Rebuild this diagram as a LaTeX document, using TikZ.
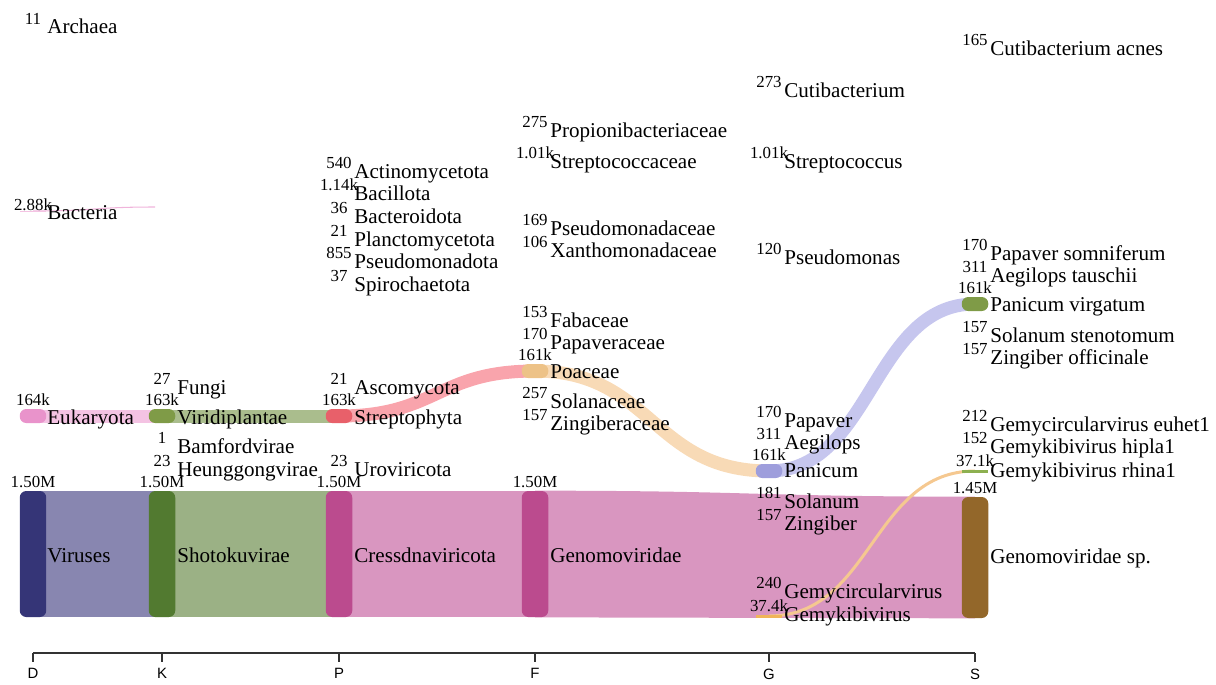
\documentclass[tikz,border=0pt]{standalone}
\usepackage{fontspec}
\setmainfont{Liberation Serif}
\setsansfont{Liberation Sans}
\usetikzlibrary{backgrounds}

\definecolor{virbar}{HTML}{353577}
\definecolor{virband}{HTML}{8886B0}
\definecolor{shobar}{HTML}{527A30}
\definecolor{shoband}{HTML}{9BB185}
\definecolor{crebar}{HTML}{BB4B8E}
\definecolor{creband}{HTML}{D996C0}
\definecolor{gspbar}{HTML}{93672A}
\definecolor{eukbar}{HTML}{E993CB}
\definecolor{eukband}{HTML}{F4C3E3}
\definecolor{vribar}{HTML}{7F9B47}
\definecolor{vriband}{HTML}{AABD8D}
\definecolor{strbar}{HTML}{E8606A}
\definecolor{strband}{HTML}{F9A4AC}
\definecolor{poabar}{HTML}{EDC287}
\definecolor{poaband}{HTML}{F8DAB6}
\definecolor{panbar}{HTML}{9E9EDC}
\definecolor{panband}{HTML}{C6C6EE}
\definecolor{gkbbar}{HTML}{F0B55A}
\definecolor{gkbband}{HTML}{F5C890}
\definecolor{rhibar}{HTML}{8DB050}

\tikzset{
  bar/.style={rounded corners=0.13cm, minimum width=0.53cm, inner sep=0pt},
  thinbar/.style={minimum width=0.53cm, inner sep=0pt},
  taxon/.style={font=\fontsize{12}{14}\selectfont, inner sep=0pt, anchor=base west},
  count/.style={font=\fontsize{9.6}{11}\selectfont, inner sep=0pt, anchor=base},
  flow/.style={line width=0.26cm},
  axis/.style={draw=black!80, line width=0.7pt},
  rank/.style={font=\sffamily\fontsize{8.5}{10}\selectfont, inner sep=0pt, anchor=north}
}

\begin{document}
\begin{tikzpicture}[x=0.02cm, y=-0.02cm, label distance=0.06cm]
  \useasboundingbox (0,0) rectangle (1216,684);

  % Viruses lineage
  \node[bar, fill=virbar, minimum height=2.52cm, label={[count]above:1.50M}] (vir) at (33,554) {};
  \node[bar, fill=shobar, minimum height=2.52cm, label={[count]above:1.50M}] (sho) at (162,554) {};
  \node[bar, fill=crebar, minimum height=2.52cm, label={[count]above:1.50M}] (cre) at (339,554) {};
  \node[bar, fill=crebar, minimum height=2.52cm, label={[count]above:1.50M}] (gen) at (535,554) {};
  \node[bar, fill=gspbar, minimum height=2.42cm, label={[count]above:1.45M}] (gsp) at (975,557.5) {};
  \node[thinbar, fill=gkbbar, minimum height=0.06cm, label={[count]above:37.4k}] (gkb) at (769,616) {};
  \node[thinbar, fill=rhibar, minimum height=0.06cm, label={[count]above:37.1k}] (rhi) at (975,471) {};

  % Eukaryota lineage
  \node[bar, fill=eukbar, minimum height=0.28cm, label={[count]above:164k}] (euk) at (33,416) {};
  \node[bar, fill=vribar, minimum height=0.28cm, label={[count]above:163k}] (vri) at (162,416) {};
  \node[bar, fill=strbar, minimum height=0.28cm, label={[count]above:163k}] (str) at (339,416) {};
  \node[bar, fill=poabar, minimum height=0.28cm, label={[count]above:161k}] (poa) at (535,371) {};
  \node[bar, fill=panbar, minimum height=0.28cm, label={[count]above:161k}] (pan) at (769,471) {};
  \node[bar, fill=vribar, minimum height=0.28cm, label={[count]above:161k}] (pvi) at (975,304) {};

  % Bacteria
  \node[thinbar, minimum height=0.02cm, fill=eukband] (bac) at (33,211) {};
  \coordinate (bacend) at (155,207);

  % Bands
  \begin{scope}[on background layer]
    \fill[virband] (vir.north) rectangle (sho.south);
    \fill[shoband] (sho.north) rectangle (cre.south);
    \fill[creband] (cre.north) rectangle (gen.south);
    \fill[creband] (gen.north) .. controls +(220,0) and +(-220,0) .. (gsp.north)
      -- (gsp.south) .. controls +(-220,0) and +(220,0) .. (gen.south) -- cycle;
    \draw[flow, eukband] (euk.center) -- (vri.center);
    \draw[flow, vriband] (vri.center) -- (str.center);
    \draw[flow, strband] (str.center) .. controls +(98,0) and +(-98,0) .. (poa.center);
    \draw[flow, poaband] (poa.center) .. controls +(117,0) and +(-117,0) .. (pan.center);
    \draw[flow, panband] (pan.center) .. controls +(103,0) and +(-103,0) .. (pvi.center);
    \draw[line width=0.06cm, gkbband] (gkb.center) .. controls +(103,0) and +(-103,0) .. (rhi.center);
    \draw[line width=0.6pt, eukbar!70] (bac.center) .. controls +(61,0) and +(-61,0) .. (bacend);
  \end{scope}

  % Names of the bars
  \node[taxon] (vir-t) at (47,562) {Viruses};
  \node[taxon] (sho-t) at (177,562) {Shotokuvirae};
  \node[taxon] (cre-t) at (354,562) {Cressdnaviricota};
  \node[taxon] (gen-t) at (550,562) {Genomoviridae};
  \node[taxon] (gsp-t) at (990,563) {Genomoviridae sp.};
  \node[taxon] (gkb-t) at (784,621) {Gemykibivirus};
  \node[taxon] (rhi-t) at (990,477) {Gemykibivirus rhina1};
  \node[taxon] (euk-t) at (47,424) {Eukaryota};
  \node[taxon] (vri-t) at (177,424) {Viridiplantae};
  \node[taxon] (str-t) at (354,424) {Streptophyta};
  \node[taxon] (poa-t) at (550,378) {Poaceae};
  \node[taxon] (pan-t) at (784,477) {Panicum};
  \node[taxon] (pvi-t) at (990,311) {Panicum virgatum};

  % Domain
  \foreach \y/\t/\n [count=\i] in {33/Archaea/11, 219/Bacteria/2.88k} {
    \node[taxon] (d\i) at (47,\y) {\t};
    \node[count] (d\i-n) at (33,\y-9) {\n};
  }

  % Kingdom
  \foreach \y/\t/\n [count=\i] in {394/Fungi/27, 453/Bamfordvirae/1, 476/Heunggongvirae/23} {
    \node[taxon] (k\i) at (177,\y) {\t};
    \node[count] (k\i-n) at (162,\y-10) {\n};
  }

  % Phylum
  \foreach \y/\t/\n [count=\i] in {178/Actinomycetota/540, 200/Bacillota/1.14k,
      223/Bacteroidota/36, 246/Planctomycetota/21, 268/Pseudomonadota/855,
      291/Spirochaetota/37, 394/Ascomycota/21, 476/Uroviricota/23} {
    \node[taxon] (p\i) at (354,\y) {\t};
    \node[count] (p\i-n) at (339,\y-10) {\n};
  }

  % Family
  \foreach \y/\t/\n [count=\i] in {137/Propionibacteriaceae/275, 168/Streptococcaceae/1.01k,
      235/Pseudomonadaceae/169, 257/Xanthomonadaceae/106, 327/Fabaceae/153,
      349/Papaveraceae/170, 408/Solanaceae/257, 430/Zingiberaceae/157} {
    \node[taxon] (f\i) at (550,\y) {\t};
    \node[count] (f\i-n) at (535,\y-10) {\n};
  }

  % Genus
  \foreach \y/\t/\n [count=\i] in {97/Cutibacterium/273, 168/Streptococcus/1.01k,
      264/Pseudomonas/120, 427/Papaver/170, 449/Aegilops/311, 508/Solanum/181,
      530/Zingiber/157, 598/Gemycircularvirus/240} {
    \node[taxon] (g\i) at (784,\y) {\t};
    \node[count] (g\i-n) at (769,\y-10) {\n};
  }

  % Species
  \foreach \y/\t/\n [count=\i] in {55/Cutibacterium acnes/165, 260/Papaver somniferum/170,
      282/Aegilops tauschii/311, 342/Solanum stenotomum/157, 364/Zingiber officinale/157,
      431/Gemycircularvirus euhet1/212, 453/Gemykibivirus hipla1/152} {
    \node[taxon] (s\i) at (990,\y) {\t};
    \node[count] (s\i-n) at (975,\y-10) {\n};
  }

  % Rank axis
  \draw[axis] (33,653) -- (975,653);
  \foreach \x/\r in {33/D, 162/K, 339/P, 535/F, 769/G, 975/S}
    \draw[axis] (\x,653) -- (\x,662) node[rank, below=0.12cm] (r\r) {\r};
\end{tikzpicture}
\end{document}
